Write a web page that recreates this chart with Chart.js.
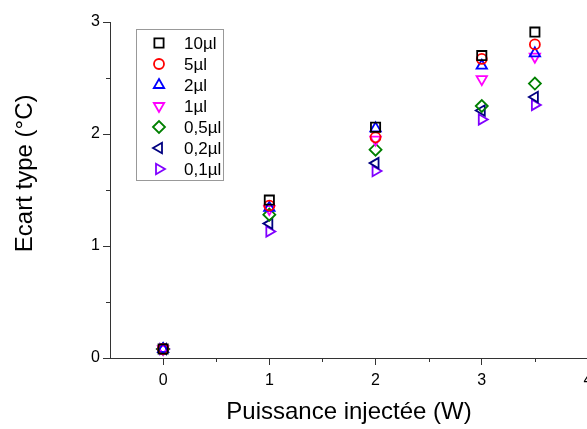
<!DOCTYPE html>
<html>
<head>
<meta charset="utf-8">
<script src="https://cdn.jsdelivr.net/npm/chart.js@4"></script>
<style>
  html, body { margin: 0; padding: 0; background: #fff; overflow: hidden; }
  #wrap { width: 600px; height: 429px; }
</style>
</head>
<body>
<div id="wrap"><canvas id="chart" width="600" height="429"></canvas></div>
<script>
// Puissance injectée (W)
const puissance = [0, 1, 2, 3, 3.5];

// Ecart type (°C) par volume
const v10  = [0.08, 1.41, 2.06, 2.70, 2.91];
const v5   = [0.08, 1.36, 1.97, 2.67, 2.80];
const v2   = [0.08, 1.34, 2.05, 2.61, 2.72];
const v1   = [0.08, 1.33, 1.95, 2.49, 2.69];
const v05  = [0.08, 1.28, 1.86, 2.25, 2.45];
const v02  = [0.08, 1.20, 1.74, 2.21, 2.33];
const v01  = [0.08, 1.13, 1.67, 2.13, 2.26];

const labels = ['10µl', '5µl', '2µl', '1µl', '0,5µl', '0,2µl', '0,1µl'];
const series = [v10, v5, v2, v1, v05, v02, v01];
const colors = ['#000000', '#ff0000', '#0000ff', '#ff00ff', '#008000', '#000080', '#8000ff'];
const styles = ['rect', 'circle', 'triangle', 'triangle', 'rectRot', 'triangle', 'triangle'];
const rotations = [0, 0, 0, 180, 0, -90, 90];
const radii = [6.5, 5, 6, 6, 6, 6, 6];

const FONT = "'Liberation Sans', Arial, sans-serif";

function pts(vals) {
    return puissance.map((x, i) => ({ x: x, y: vals[i] }));
}

const datasets = series.map((s, i) => ({
    label: labels[i],
    data: pts(s),
    pointStyle: styles[i],
    rotation: rotations[i],
    pointRadius: radii[i],
    pointHoverRadius: radii[i],
    pointBorderWidth: 1.8,
    borderColor: colors[i],
    backgroundColor: 'transparent',
    showLine: false
}));

// petits traits pour les graduations secondaires
const minorTicks = {
    id: 'minorTicks',
    afterDraw(chart) {
        const ctx = chart.ctx;
        const xs = chart.scales.x, ys = chart.scales.y;
        ctx.save();
        ctx.strokeStyle = '#333';
        ctx.lineWidth = 1;
        ctx.beginPath();
        ys.ticks.forEach(t => {
            if (t.value % 1 !== 0) {
                const py = Math.round(ys.getPixelForValue(t.value)) + 0.5;
                ctx.moveTo(xs.left - 4, py);
                ctx.lineTo(xs.left, py);
            }
        });
        xs.ticks.forEach(t => {
            if (t.value % 1 !== 0 && t.value > xs.min) {
                const px = Math.round(xs.getPixelForValue(t.value)) + 0.5;
                ctx.moveTo(px, ys.bottom);
                ctx.lineTo(px, ys.bottom + 4);
            }
        });
        ctx.stroke();
        ctx.restore();
    }
};

// légende dans un cadre à l'intérieur du graphique
const boxLegend = {
    id: 'boxLegend',
    afterDraw(chart) {
        const ctx = chart.ctx;
        const left = 136, top = 29, w = 87, h = 151, row = 21;
        ctx.save();
        ctx.strokeStyle = '#999';
        ctx.lineWidth = 1;
        ctx.strokeRect(left + 0.5, top + 0.5, w, h);
        ctx.font = '17px ' + FONT;
        ctx.textBaseline = 'middle';
        chart.data.datasets.forEach((ds, i) => {
            const y = top + 14 + i * row;
            ctx.strokeStyle = ds.borderColor;
            ctx.fillStyle = 'transparent';
            ctx.lineWidth = 1.8;
            Chart.helpers.drawPoint(ctx, {
                pointStyle: ds.pointStyle,
                rotation: ds.rotation,
                radius: ds.pointRadius,
                borderWidth: 1.8
            }, 159, y);
            ctx.fillStyle = '#000';
            ctx.fillText(ds.label, 184, y + 1);
        });
        ctx.restore();
    }
};

const config = {
    type: 'scatter',
    data: { datasets: datasets },
    options: {
        responsive: false,
        animation: false,
        layout: { padding: { left: 8, top: 22, right: 12, bottom: 0 } },
        plugins: {
            legend: { display: false },
            tooltip: { enabled: false }
        },
        scales: {
            x: {
                type: 'linear',
                min: -0.5,
                max: 4,
                afterFit(scale) { scale.height = 71; },
                border: { color: '#333', width: 1 },
                grid: {
                    drawOnChartArea: false,
                    tickLength: 7,
                    tickColor: c => (c.tick && c.tick.value % 1 === 0) ? '#333' : 'transparent'
                },
                ticks: {
                    stepSize: 0.5,
                    autoSkip: false,
                    maxRotation: 0,
                    padding: 6,
                    color: '#000',
                    font: { family: FONT, size: 16 },
                    callback: v => (v % 1 === 0) ? String(v) : ''
                },
                title: {
                    display: true,
                    text: 'Puissance injectée (W)',
                    color: '#000',
                    font: { family: FONT, size: 24 },
                    padding: { top: 0, bottom: 2 }
                }
            },
            y: {
                min: 0,
                max: 3,
                afterFit(scale) { scale.width = 102; },
                border: { color: '#333', width: 1 },
                grid: {
                    drawOnChartArea: false,
                    tickLength: 7,
                    tickColor: c => (c.tick && c.tick.value % 1 === 0) ? '#333' : 'transparent'
                },
                ticks: {
                    stepSize: 0.5,
                    autoSkip: false,
                    padding: 3,
                    color: '#000',
                    font: { family: FONT, size: 16 },
                    callback: v => (v % 1 === 0) ? String(v) : ''
                },
                title: {
                    display: true,
                    text: '     Ecart type (°C)',
                    color: '#000',
                    font: { family: FONT, size: 24 },
                    padding: { top: 3, bottom: 0 }
                }
            }
        }
    },
    plugins: [minorTicks, boxLegend]
};

new Chart(document.getElementById('chart'), config);
</script>
</body>
</html>
